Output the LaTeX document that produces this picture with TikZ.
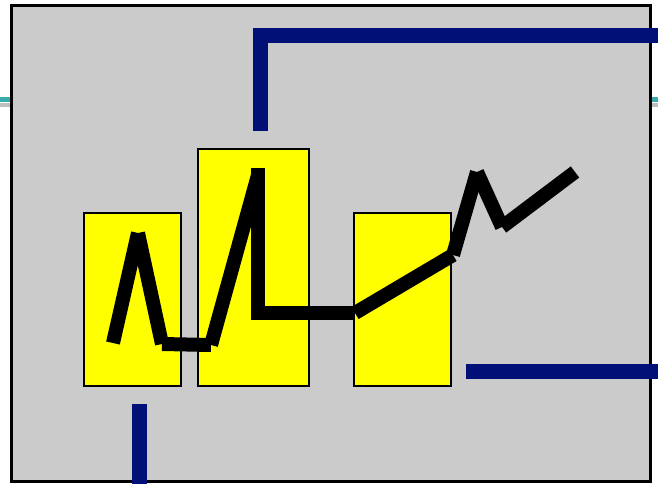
\documentclass[tikz,border=0pt]{standalone}
\usepackage{tikz}
\usetikzlibrary{positioning}
\definecolor{panelgray}{RGB}{203,203,203}
\definecolor{wirenavy}{RGB}{0,16,118}
\definecolor{railteal}{RGB}{56,172,172}
\definecolor{blockyellow}{RGB}{255,255,0}

\begin{document}
\begin{tikzpicture}[x=1pt,y=-1pt,
  block/.style={draw=black,line width=2pt,fill=blockyellow},
  wire/.style={draw=wirenavy,line width=15pt},
  trace/.style={draw=black,line width=14pt,line cap=butt}
]
\useasboundingbox (0,0) rectangle (658,484);
% rail behind the panel
\draw[railteal,line width=5pt] (0,100) -- (658,100);
\draw[black!25,line width=4pt] (0,105) -- (658,105);
% panel
\draw[fill=panelgray,draw=black,line width=3pt] (11,6) rectangle (650,481);
% blocks
\draw[block] (84,213) rectangle (181,386);
\draw[block] (198,149) rectangle (309,386);
\draw[block] (354,213) rectangle (451,386);
% wires
\coordinate (topin) at (260,131);
\coordinate (topcorner) at (260,35.5);
\coordinate (topout) at (658,35.5);
\draw[wire,line join=miter] (topin) -- (topcorner) -- (topout);
\coordinate (botin) at (139.5,404);
\coordinate (botout) at (139.5,484);
\draw[wire] (botin) -- (botout);
\coordinate (rin) at (466,371.5);
\coordinate (rout) at (658,371.5);
\draw[wire] (rin) -- (rout);
% trace
\foreach \name/\px/\py in {t0/113/343,t1/138/233,t2/162/344,t3/211/345,
  t4/258/175,t5/258/313,t6/355/313,t7/453/255,t8/477/172,
  t9/502/227,t10/575/172}
  \coordinate (\name) at (\px,\py);
\foreach \ta/\tb in {t0/t1,t1/t2,t2/t3,t3/t4,t5/t6,t6/t7,t7/t8,t8/t9,t9/t10}
  \draw[trace] (\ta) -- (\tb);
\draw[trace] ([yshift=7pt]t4) -- ([yshift=-7pt]t5);
\end{tikzpicture}
\end{document}
